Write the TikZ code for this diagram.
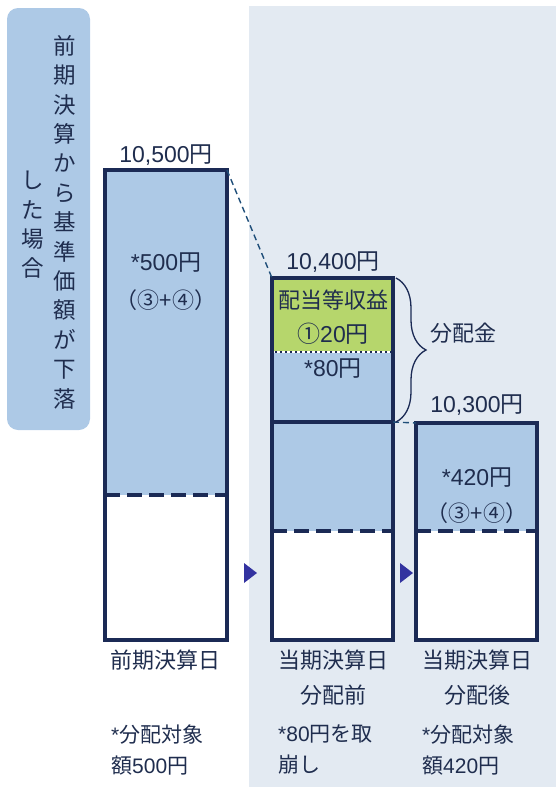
\documentclass[tikz,border=0pt]{standalone}
\usepackage{fontspec}
\setmainfont{Liberation Sans}
\newfontfamily\jp{Noto Sans CJK JP}
\usetikzlibrary{decorations.pathreplacing}
\definecolor{navy}{HTML}{1B2A55}
\definecolor{txt}{HTML}{1F2D4E}
\definecolor{barblue}{HTML}{ADC9E6}
\definecolor{sideblue}{HTML}{ADC9E6}
\definecolor{green}{HTML}{B6D66C}
\definecolor{panel}{HTML}{E3EAF2}
\definecolor{linkblue}{HTML}{1F4E79}
\definecolor{tri}{HTML}{3333A0}
\tikzset{
  bar/.style={draw=navy, line width=3.6pt, inner sep=0pt, outer sep=0pt},
  lvl/.style={navy, line width=4pt, dash pattern=on 15pt off 7pt},
  num/.style={text=txt, inner sep=0pt, font=\fontsize{23}{26}\selectfont},
  lbl/.style={text=txt, inner sep=0pt, font=\jp\fontsize{22}{26}\selectfont},
  note/.style={text=txt, inner sep=0pt, anchor=west, align=left, font=\fontsize{21}{31}\selectfont},
  vtext/.style={text=txt, inner sep=0pt, align=center, font=\jp\fontsize{22.5}{29.4}\selectfont},
  link/.style={linkblue, line width=1.4pt, dash pattern=on 6pt off 4pt},
}
\begin{document}
\begin{tikzpicture}[x=1pt,y=-1pt]
\useasboundingbox (0,0) rectangle (556,787);
% panel
\fill[panel] (249,6) rectangle (556,787);
% side label
\fill[sideblue, rounded corners=11pt] (7,8) rectangle (90,430);
\node[vtext] (v1) at (65,222) {前\\期\\決\\算\\か\\ら\\基\\準\\価\\額\\が\\下\\落};
\node[vtext] (v2) at (33,225) {し\\た\\場\\合};
% fills
\fill[barblue] (105,170) rectangle (227,495);
\fill[white] (105,495) rectangle (227,640);
\fill[green] (272,278) rectangle (393,352);
\fill[barblue] (272,352) rectangle (393,531);
\fill[white] (272,531) rectangle (393,640);
\fill[barblue] (416,423) rectangle (537,531);
\fill[white] (416,531) rectangle (537,640);
% level dashed lines
\draw[lvl] (105,495) -- (227,495);
\draw[lvl] (272,531) -- (393,531);
\draw[lvl] (416,531) -- (537,531);
% dotted divider
\draw[navy, line width=2.6pt] (272,352) -- (393,352);
\draw[white, line width=2.6pt, dash pattern=on 2.5pt off 2.5pt] (272,352) -- (393,352);
% bars
\node[bar, minimum width=122pt, minimum height=470pt] (b1) at (166,405) {};
\node[bar, minimum width=121pt, minimum height=144pt] (b2t) at (332.5,350) {};
\node[bar, minimum width=121pt, minimum height=218pt] (b2) at (332.5,531) {};
\node[bar, minimum width=121pt, minimum height=217pt] (b3) at (476.5,531.5) {};
% links
\draw[link] (b1.north east) -- (b2t.north west);
\draw[link] (b2.north east) -- (b3.north west);
% brace
\draw[navy, line width=1.3pt, decorate, decoration={brace, amplitude=30pt}] ([xshift=3pt]b2t.north east) -- ([xshift=3pt]b2t.south east);
% triangles
\fill[tri] (244,563) -- (257,573) -- (244,583) -- cycle;
\fill[tri] (400,563) -- (413,573) -- (400,583) -- cycle;
% texts
\node[num] (t1) at (166,155) {10,500{\jp 円}};
\node[num] (t2) at (166,263) {*500{\jp 円}};
\node[lbl] (t3) at (166,300) {（③+④）};
\node[num] (t4) at (333,262) {10,400{\jp 円}};
\node[lbl] (t5) at (333,300) {配当等収益};
\node[num] (t6) at (333,334) {{\jp ①}20{\jp 円}};
\node[num] (t7) at (333,369) {*80{\jp 円}};
\node[lbl] (t8) at (463,333) {分配金};
\node[num] (t9) at (477,405) {10,300{\jp 円}};
\node[num] (t10) at (477,478) {*420{\jp 円}};
\node[lbl] (t11) at (477,513) {（③+④）};
\node[lbl] (d1) at (165,660) {前期決算日};
\node[lbl] (d2) at (333,660) {当期決算日};
\node[lbl] (d2b) at (333,695) {分配前};
\node[lbl] (d3) at (477,660) {当期決算日};
\node[lbl] (d3b) at (477,695) {分配後};
\node[note] (n1) at (111,750) {*{\jp 分配対象}\\{\jp 額}500{\jp 円}};
\node[note] (n2) at (278,750) {*80{\jp 円を取}\\{\jp 崩し}};
\node[note] (n3) at (422,750) {*{\jp 分配対象}\\{\jp 額}420{\jp 円}};
\end{tikzpicture}
\end{document}
